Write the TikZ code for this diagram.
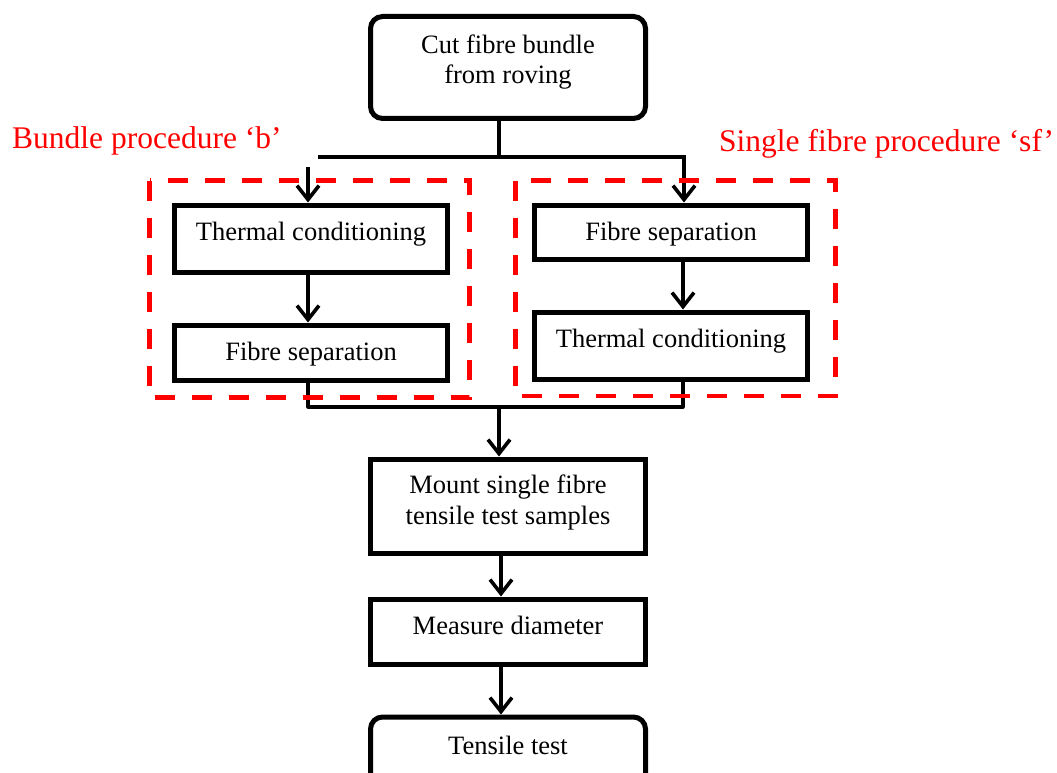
\documentclass[tikz,border=0pt]{standalone}
\usepackage{fontspec}
\setmainfont{Liberation Serif}
\usetikzlibrary{arrows.meta}
\begin{document}
\begin{tikzpicture}[x=1pt,y=-1pt,
  box/.style={draw, line width=5pt, inner sep=0pt, minimum width=273pt, text height=35.5pt, anchor=north, font=\fontsize{26.5}{30.5}\selectfont, align=center},
  wbox/.style={box, minimum width=275pt},
  rbox/.style={wbox, rounded corners=12pt},
  conn/.style={line width=3.2pt, line join=round},
  arr/.style={line width=3.6pt, -{Straight Barb[length=14pt,width=22pt]}},
  grp/.style={draw=red, line width=4.5pt, dash pattern=on 20pt off 17pt},
  lab/.style={text=red, font=\fontsize{31.5}{36}\selectfont, inner sep=0pt, anchor=base west}]
\useasboundingbox (0,0) rectangle (1057,773);

\node[rbox, text height=67.5pt, text depth=34.5pt] (top) at (508,14) {Cut fibre bundle\\from roving};
\node[box, text depth=31.5pt] (lt) at (311,202.5) {Thermal conditioning};
\node[box, text depth=19.5pt] (lfs) at (311,322.5) {Fibre separation};
\node[box, text depth=18.5pt] (rfs) at (671,202.5) {Fibre separation};
\node[box, text depth=31.5pt] (rt) at (671,309.5) {Thermal conditioning};
\node[wbox, text height=65pt, text depth=29pt] (mount) at (508,456.5) {Mount single fibre\\tensile test samples};
\node[wbox, text depth=29.8pt] (meas) at (508,596.5) {Measure diameter};
\node[rbox, text height=37.5pt, text depth=40pt] (tt) at (508,714.5) {Tensile test};

\node[lab] (lb) at (12,148.3) {Bundle procedure ‘b’};
\node[lab] (ls) at (719,151.7) {Single fibre procedure ‘sf’};

% split
\coordinate (hl) at (318,157);
\coordinate (la) at (308,167);
\draw[conn] ([xshift=-9pt]top.south) |- (hl);
\draw[arr] (hl) -| ([xshift=13pt]rfs.north);
\draw[arr] (la) -- (la |- lt.north);
\draw[arr] ([xshift=-3pt]lt.south) -- ([xshift=-3pt]lfs.north);
\draw[arr] ([xshift=12pt]rfs.south) -- ([xshift=12pt]rt.north);

% merge
\coordinate (mb) at (499,407);
\draw[conn] ([xshift=-3pt]lfs.south) |- (mb) -| ([xshift=12pt]rt.south);
\draw[arr] (mb) -- (mb |- mount.north);
\draw[arr] ([xshift=-7pt]mount.south) -- ([xshift=-7pt]meas.north);
\draw[arr] ([xshift=-7pt]meas.south) -- ([xshift=-7pt]tt.north);

% groups
\draw[grp] (149.5,180.5) rectangle (469.5,397.5);
\draw[grp] (515.5,180.5) rectangle (835.5,396);
\end{tikzpicture}
\end{document}
